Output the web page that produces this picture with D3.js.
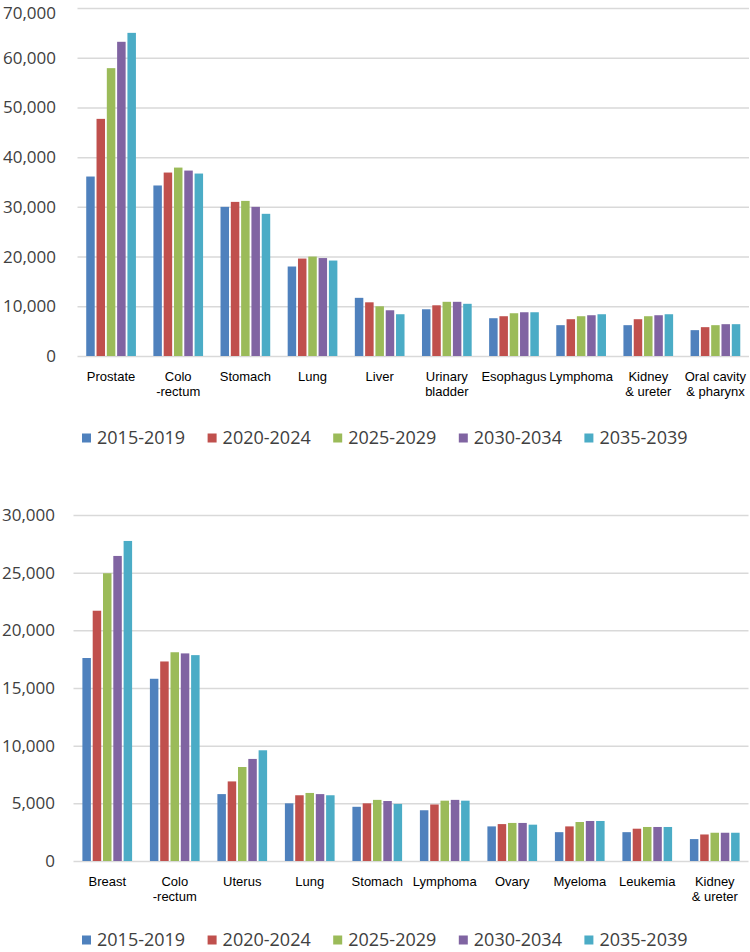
<!DOCTYPE html>
<html>
<head>
<meta charset="utf-8">
<script src="https://cdn.jsdelivr.net/npm/d3@7"></script>
<style>
  html, body { margin: 0; padding: 0; background: #fff; }
  svg { display: block; }
</style>
</head>
<body>
<svg id="chart" width="750" height="952"></svg>
<script>
const series = ["2015-2019", "2020-2024", "2025-2029", "2030-2034", "2035-2039"];
const colors = ["#4F81BD", "#C0504D", "#9BBB59", "#8064A2", "#4BACC6"];

// Top chart (men)
const topCategories = ["Prostate", "Colo\n-rectum", "Stomach", "Lung", "Liver", "Urinary\nbladder", "Esophagus", "Lymphoma", "Kidney\n& ureter", "Oral cavity\n& pharynx"];
const top2015 = [36100, 34300, 30000, 18000, 11700, 9400, 7600, 6200, 6200, 5200];
const top2020 = [47700, 36900, 31000, 19600, 10800, 10200, 8000, 7400, 7400, 5800];
const top2025 = [57900, 37900, 31200, 20000, 10000, 10900, 8600, 8000, 8000, 6200];
const top2030 = [63200, 37300, 30000, 19700, 9200, 10900, 8800, 8200, 8200, 6400];
const top2035 = [65000, 36700, 28600, 19200, 8400, 10500, 8800, 8400, 8400, 6400];
const topTicks = [0, 10000, 20000, 30000, 40000, 50000, 60000, 70000];

// Bottom chart (women)
const botCategories = ["Breast", "Colo\n-rectum", "Uterus", "Lung", "Stomach", "Lymphoma", "Ovary", "Myeloma", "Leukemia", "Kidney\n& ureter"];
const bot2015 = [17600, 15800, 5800, 5000, 4700, 4400, 3000, 2500, 2500, 1900];
const bot2020 = [21700, 17300, 6900, 5700, 5000, 4900, 3200, 3000, 2800, 2300];
const bot2025 = [24950, 18100, 8150, 5900, 5300, 5230, 3300, 3380, 2950, 2450];
const bot2030 = [26450, 18000, 8850, 5800, 5200, 5300, 3300, 3470, 2950, 2450];
const bot2035 = [27750, 17850, 9600, 5700, 4950, 5230, 3150, 3470, 2950, 2450];
const botTicks = [0, 5000, 10000, 15000, 20000, 25000, 30000];

const svg = d3.select("#chart");

function drawChart(cfg) {
  const { categories, values, ticks, yMax, x0Range, yRange, labelX, legendY } = cfg;
  const g = svg.append("g");

  const y = d3.scaleLinear().domain([0, yMax]).range(yRange);
  const x0 = d3.scaleBand().domain(categories).range(x0Range).padding(0);
  const groupW = 49.7;
  const off = (x0.bandwidth() - groupW) / 2;
  const x1 = d3.scaleBand().domain(series).range([off, off + groupW]).paddingInner(0.175).paddingOuter(0);

  // gridlines
  const grid = g.append("g")
    .attr("transform", `translate(${x0Range[0]},0)`)
    .call(d3.axisLeft(y).tickValues(ticks).tickSize(-(x0Range[1] - x0Range[0])).tickFormat(""));
  grid.select(".domain").remove();
  grid.selectAll(".tick line").attr("stroke", "#d9d9d9").attr("stroke-width", 1.5);

  // y labels
  const ya = g.append("g")
    .attr("transform", `translate(${labelX},0)`)
    .call(d3.axisLeft(y).tickValues(ticks).tickSize(0).tickPadding(0).tickFormat(d3.format(",")));
  ya.select(".domain").remove();
  ya.selectAll(".tick text")
    .attr("font-family", "'Open Sans', 'Noto Sans', sans-serif")
    .attr("font-size", 17)
    .attr("fill", "#404040")
    .attr("y", d => Math.max(0, 13 - y(d)));

  // bars
  const data = categories.map((c, i) => ({ cat: c, vals: series.map((s, j) => ({ s, j, v: values[j][i] })) }));
  const groups = g.selectAll("g.grp").data(data).join("g")
    .attr("class", "grp")
    .attr("transform", d => `translate(${x0(d.cat)},0)`);
  groups.selectAll("rect").data(d => d.vals).join("rect")
    .attr("x", d => x1(d.s))
    .attr("width", x1.bandwidth())
    .attr("y", d => y(d.v))
    .attr("height", d => y(0) - y(d.v))
    .attr("fill", d => colors[d.j]);

  // x labels
  const xa = g.append("g")
    .attr("transform", `translate(0,${yRange[0]})`)
    .call(d3.axisBottom(x0).tickSize(0).tickFormat(""));
  xa.select(".domain").remove();
  xa.selectAll(".tick").each(function(d) {
    const lines = d.split("\n");
    const t = d3.select(this).append("text")
      .attr("text-anchor", "middle")
      .attr("font-family", "'Liberation Sans', Arial, sans-serif")
      .attr("font-size", 13)
      .attr("fill", "#000");
    lines.forEach((ln, k) => {
      t.append("tspan").attr("x", 0).attr("y", 24.5 + k * 15.5).text(ln);
    });
  });

  // legend
  const lg = g.append("g").attr("transform", `translate(82,${legendY})`);
  const items = lg.selectAll("g").data(series).join("g")
    .attr("transform", (d, i) => `translate(${i * 125.6},0)`);
  items.append("rect").attr("x", 0).attr("y", -4.5).attr("width", 9).attr("height", 9)
    .attr("fill", (d, i) => colors[i]);
  items.append("text").attr("x", 15).attr("y", 0).attr("dy", "0.35em")
    .attr("font-family", "'Open Sans', 'Noto Sans', sans-serif")
    .attr("font-size", 18)
    .attr("fill", "#404040")
    .text(d => d);
}

drawChart({
  categories: topCategories,
  values: [top2015, top2020, top2025, top2030, top2035],
  ticks: topTicks,
  yMax: 70000,
  x0Range: [77.5, 749],
  yRange: [356, 8],
  labelX: 56,
  legendY: 438
});

drawChart({
  categories: botCategories,
  values: [bot2015, bot2020, bot2025, bot2030, bot2035],
  ticks: botTicks,
  yMax: 30000,
  x0Range: [73.5, 748.5],
  yRange: [861, 515],
  labelX: 55,
  legendY: 940
});
</script>
</body>
</html>
